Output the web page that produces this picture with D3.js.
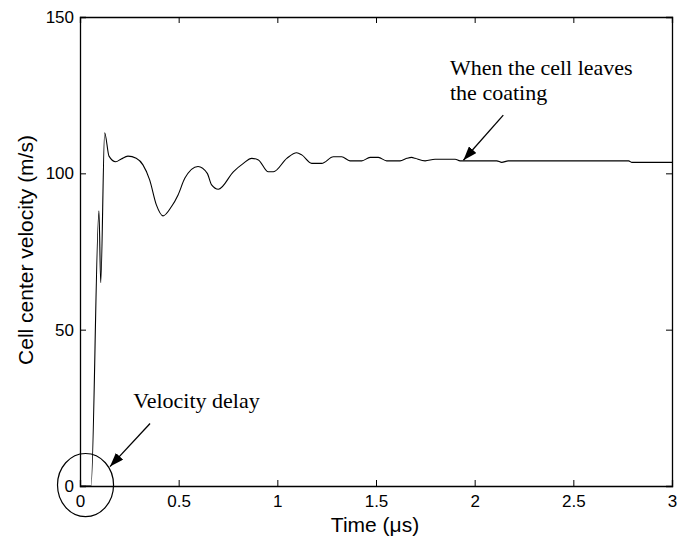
<!DOCTYPE html>
<html>
<head>
<meta charset="utf-8">
<script src="https://cdn.jsdelivr.net/npm/d3@7"></script>
<style>
  body { margin: 0; background: #fff; }
  svg { display: block; }
</style>
</head>
<body>
<svg id="chart" width="678" height="541"></svg>
<script>
// ---- data ----
const time = [0, 0.056, 0.096, 0.105, 0.125, 0.147, 0.181, 0.209, 0.243, 0.285, 0.319, 0.353, 0.387, 0.421,
  0.463, 0.497, 0.531, 0.598, 0.645, 0.667, 0.701, 0.777, 0.828, 0.870, 0.904, 0.954, 0.980, 1.048, 1.098,
  1.124, 1.174, 1.225, 1.284, 1.326, 1.368, 1.428, 1.470, 1.512, 1.554, 1.622, 1.656, 1.681, 1.698, 1.749,
  1.799, 1.901, 1.926, 2.112, 2.137, 2.170, 2.780, 2.797, 3.0];
const velocity = [0, 0, 88, 65, 113, 105.5, 103.7, 104.6, 105.5, 104.8, 102.7, 97.9, 89.9, 86.4,
  89.3, 93.1, 98.4, 102.2, 100, 96.3, 94.9, 100.5, 103.2, 104.8, 104.3, 100.5, 100.5, 104.8, 106.6,
  105.9, 103.2, 103.2, 105.3, 105.3, 104.0, 104.0, 105.1, 105.1, 104.0, 104.0, 104.8, 105.1, 104.8, 104.0,
  104.5, 104.5, 104.0, 104.0, 103.5, 104.0, 104.0, 103.5, 103.5];
const xTicks = [0, 0.5, 1, 1.5, 2, 2.5, 3];
const yTicks = [0, 50, 100, 150];
const xLabel = "Time (\u03bcs)";
const yLabel = "Cell center velocity (m/s)";
const noteLeaves = ["When the cell leaves", "the coating"];
const noteDelay = ["Velocity delay"];

// ---- layout ----
const svg = d3.select("#chart");
const m = { left: 80, top: 17, right: 672, bottom: 486 };
const x = d3.scaleLinear().domain([0, 3]).range([m.left, m.right]);
const y = d3.scaleLinear().domain([0, 150]).range([m.bottom, m.top]);

const sans = "Liberation Sans, Arial, sans-serif";
const serif = "Liberation Serif, Times New Roman, serif";

// axes (MATLAB style: inward ticks, box)
const gx = svg.append("g").attr("transform", `translate(0,${m.bottom})`)
  .call(d3.axisBottom(x).tickValues(xTicks).tickSize(-6).tickPadding(9).tickFormat(d3.format("")));
const gxt = svg.append("g").attr("transform", `translate(0,${m.top})`)
  .call(d3.axisTop(x).tickValues(xTicks).tickSize(-6).tickFormat(""));
const gy = svg.append("g").attr("transform", `translate(${m.left},0)`)
  .call(d3.axisLeft(y).tickValues(yTicks).tickSize(-6).tickPadding(6).tickFormat(d3.format("")));
const gyr = svg.append("g").attr("transform", `translate(${m.right},0)`)
  .call(d3.axisRight(y).tickValues(yTicks).tickSize(-6).tickFormat(""));

[gx, gxt, gy, gyr].forEach(g => {
  g.select(".domain").attr("stroke", "#000").attr("stroke-width", 1.3);
  g.selectAll(".tick line").attr("stroke", "#000").attr("stroke-width", 1);
  g.selectAll("text").attr("font-family", sans).attr("font-size", 17).attr("fill", "#000");
});

// axis labels
svg.append("text").attr("x", 375).attr("y", 532)
  .attr("text-anchor", "middle").attr("font-family", sans).attr("font-size", 21)
  .text(xLabel);
svg.append("text").attr("transform", `translate(33,250) rotate(-90)`)
  .attr("text-anchor", "middle").attr("font-family", sans).attr("font-size", 21)
  .text(yLabel);

// curve
const data = time.map((t, i) => [t, velocity[i]]);
svg.append("path").datum(data)
  .attr("fill", "none").attr("stroke", "#000").attr("stroke-width", 1.1)
  .attr("stroke-linejoin", "round")
  .attr("d", d3.line().x(d => x(d[0])).y(d => y(d[1])).curve(d3.curveMonotoneX));

// annotations
svg.append("defs").append("marker").attr("id", "arr")
  .attr("viewBox", "0 0 14 10").attr("refX", 14).attr("refY", 5)
  .attr("markerWidth", 14).attr("markerHeight", 10).attr("markerUnits", "userSpaceOnUse")
  .attr("orient", "auto")
  .append("path").attr("d", "M0,0 L14,5 L0,10 z").attr("fill", "#000");

function note(lines, tx, ty, fx, fy, ax, ay) {
  lines.forEach((ln, i) => svg.append("text").attr("font-family", serif).attr("font-size", 22)
    .attr("fill", "#000").attr("x", x(tx)).attr("y", y(ty) + i * 25).text(ln));
  svg.append("line")
    .attr("x1", x(fx)).attr("y1", y(fy)).attr("x2", x(ax)).attr("y2", y(ay))
    .attr("stroke", "#000").attr("stroke-width", 1.3).attr("marker-end", "url(#arr)");
}
note(noteLeaves, 1.875, 131.5, 2.145, 118.6, 1.943, 104.2);
note(noteDelay, 0.27, 25.0, 0.355, 20.0, 0.152, 6.2);

// delay circle
svg.append("ellipse")
  .attr("cx", x(0.028)).attr("cy", y(0.3))
  .attr("rx", x(0.142) - x(0)).attr("ry", y(0) - y(10.1))
  .attr("fill", "none").attr("stroke", "#000").attr("stroke-width", 1.2);
</script>
</body>
</html>
